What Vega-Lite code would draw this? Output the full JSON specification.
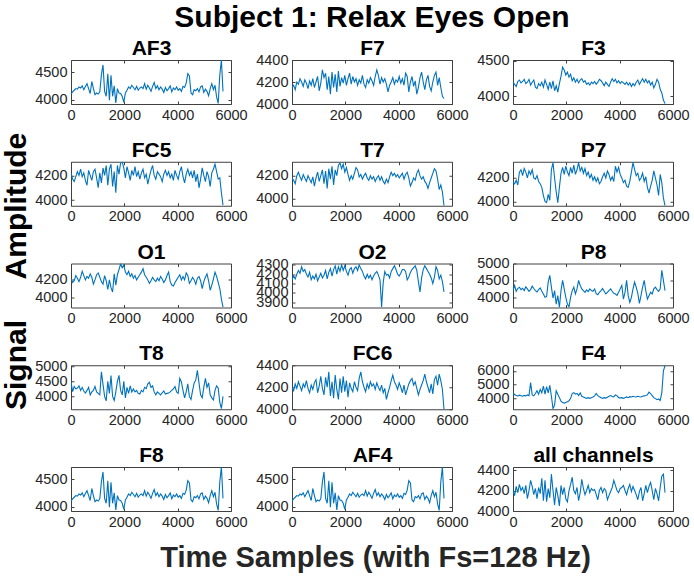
{
  "$schema": "https://vega.github.io/schema/vega-lite/v6.json",
  "background": "white",
  "padding": {"left": 2, "top": 3, "right": 2, "bottom": 3},
  "config": {
    "font": "Liberation Sans",
    "view": {"stroke": "#404040", "strokeWidth": 1},
    "axis": {"domain": false, "grid": false, "labelFont": "Liberation Sans", "labelFontSize": 14.5, "labelColor": "#262626", "tickColor": "#404040", "tickSize": -3, "labelPadding": 7, "labelFlush": false, "labelOverlap": false},
    "axisTop": {"titleFont": "Liberation Sans", "titleFontSize": 21, "titleFontWeight": "bold", "titleColor": "#000000", "titlePadding": 1},
    "title": {"font": "Liberation Sans", "fontSize": 30, "fontWeight": "bold", "color": "#000000"}
  },
  "title": {"text": "Subject 1: Relax Eyes Open", "anchor": "middle", "frame": "bounds", "offset": 4, "dx": 26},
  "data": {"values": [
{"t":0,"AF3":4100,"F7":4150,"F3":4200,"FC5":4220,"T7":4180,"P7":4160,"O1":4210,"O2":4140,"P8":4200,"T8":4490,"FC6":4200,"F4":4420,"F8":4100,"AF4":4100,"ALL":4200},
{"t":60,"AF3":4140,"F7":4170,"F3":4170,"FC5":4170,"T7":4160,"P7":4150,"O1":4170,"O2":4180,"P8":4350,"T8":4160,"FC6":4170,"F4":4280,"F8":4140,"AF4":4140,"ALL":4150},
{"t":120,"AF3":4170,"F7":4130,"F3":4140,"FC5":4150,"T7":4130,"P7":4180,"O1":4190,"O2":4150,"P8":4180,"T8":4330,"FC6":4230,"F4":4200,"F8":4170,"AF4":4170,"ALL":4240},
{"t":180,"AF3":4200,"F7":4200,"F3":4210,"FC5":4190,"T7":4200,"P7":4140,"O1":4250,"O2":4200,"P8":4260,"T8":4250,"FC6":4190,"F4":4170,"F8":4200,"AF4":4200,"ALL":4180},
{"t":240,"AF3":4190,"F7":4180,"F3":4230,"FC5":4230,"T7":4230,"P7":4250,"O1":4220,"O2":4240,"P8":4300,"T8":4280,"FC6":4250,"F4":4230,"F8":4190,"AF4":4190,"ALL":4260},
{"t":300,"AF3":4230,"F7":4230,"F3":4190,"FC5":4200,"T7":4190,"P7":4270,"O1":4180,"O2":4210,"P8":4230,"T8":4350,"FC6":4210,"F4":4190,"F8":4230,"AF4":4230,"ALL":4200},
{"t":360,"AF3":4210,"F7":4200,"F3":4210,"FC5":4250,"T7":4160,"P7":4220,"O1":4230,"O2":4280,"P8":4270,"T8":4200,"FC6":4170,"F4":4150,"F8":4210,"AF4":4210,"ALL":4230},
{"t":420,"AF3":4250,"F7":4160,"F3":4240,"FC5":4190,"T7":4210,"P7":4280,"O1":4300,"O2":4230,"P8":4200,"T8":4300,"FC6":4230,"F4":4210,"F8":4250,"AF4":4250,"ALL":4170},
{"t":480,"AF3":4180,"F7":4220,"F3":4180,"FC5":4220,"T7":4180,"P7":4250,"O1":4250,"O2":4250,"P8":4310,"T8":4180,"FC6":4200,"F4":4180,"F8":4180,"AF4":4180,"ALL":4250},
{"t":540,"AF3":4240,"F7":4190,"F3":4200,"FC5":4160,"T7":4150,"P7":4200,"O1":4200,"O2":4200,"P8":4250,"T8":4110,"FC6":4260,"F4":4250,"F8":4240,"AF4":4240,"ALL":4120},
{"t":600,"AF3":4290,"F7":4140,"F3":4240,"FC5":4120,"T7":4200,"P7":4260,"O1":4240,"O2":4170,"P8":4180,"T8":4200,"FC6":4190,"F4":4200,"F8":4290,"AF4":4290,"ALL":4200},
{"t":660,"AF3":4200,"F7":4210,"F3":4160,"FC5":4240,"T7":4170,"P7":4230,"O1":4220,"O2":4220,"P8":4230,"T8":4300,"FC6":4150,"F4":5150,"F8":4200,"AF4":4200,"ALL":4300},
{"t":720,"AF3":4110,"F7":4170,"F3":4200,"FC5":4200,"T7":4140,"P7":4270,"O1":4270,"O2":4140,"P8":4330,"T8":4050,"FC6":4220,"F4":4250,"F8":4110,"AF4":4110,"ALL":4240},
{"t":780,"AF3":4330,"F7":4230,"F3":4230,"FC5":4160,"T7":4190,"P7":4200,"O1":4230,"O2":4180,"P8":4260,"T8":4150,"FC6":4180,"F4":4180,"F8":4330,"AF4":4330,"ALL":4160},
{"t":840,"AF3":4200,"F7":4150,"F3":4130,"FC5":4230,"T7":4110,"P7":4190,"O1":4150,"O2":4150,"P8":4200,"T8":4200,"FC6":4240,"F4":4350,"F8":4200,"AF4":4200,"ALL":4220},
{"t":900,"AF3":4090,"F7":4200,"F3":4110,"FC5":4250,"T7":4180,"P7":4220,"O1":4200,"O2":4200,"P8":4160,"T8":4330,"FC6":4270,"F4":4560,"F8":4090,"AF4":4090,"ALL":4120},
{"t":960,"AF3":4120,"F7":4250,"F3":4180,"FC5":4180,"T7":4230,"P7":4170,"O1":4260,"O2":4130,"P8":4230,"T8":4150,"FC6":4150,"F4":4300,"F8":4120,"AF4":4120,"ALL":4230},
{"t":1020,"AF3":4100,"F7":4120,"F3":4150,"FC5":4100,"T7":4150,"P7":4150,"O1":4280,"O2":4170,"P8":4280,"T8":4100,"FC6":4210,"F4":4650,"F8":4100,"AF4":4100,"ALL":4170},
{"t":1080,"AF3":4140,"F7":4190,"F3":4200,"FC5":4220,"T7":4200,"P7":4120,"O1":4230,"O2":4210,"P8":4180,"T8":4050,"FC6":4300,"F4":4400,"F8":4140,"AF4":4140,"ALL":4320},
{"t":1140,"AF3":4450,"F7":4310,"F3":4130,"FC5":4140,"T7":4250,"P7":4050,"O1":4180,"O2":4160,"P8":4100,"T8":4820,"FC6":4190,"F4":4900,"F8":4450,"AF4":4450,"ALL":4100},
{"t":1200,"AF3":4630,"F7":4240,"F3":4230,"FC5":4260,"T7":4130,"P7":4000,"O1":4150,"O2":4190,"P8":4000,"T8":4400,"FC6":4130,"F4":4300,"F8":4630,"AF4":4630,"ALL":4300},
{"t":1260,"AF3":4150,"F7":4280,"F3":4170,"FC5":4200,"T7":4240,"P7":3990,"O1":4250,"O2":4240,"P8":4020,"T8":4000,"FC6":4290,"F4":4850,"F8":4150,"AF4":4150,"ALL":4090},
{"t":1320,"AF3":4060,"F7":4130,"F3":4100,"FC5":4280,"T7":4090,"P7":4060,"O1":4190,"O2":4150,"P8":4450,"T8":3850,"FC6":4200,"F4":4400,"F8":4060,"AF4":4060,"ALL":4220},
{"t":1380,"AF3":4470,"F7":4250,"F3":4200,"FC5":4120,"T7":4260,"P7":4010,"O1":4090,"O2":4220,"P8":4650,"T8":4500,"FC6":4340,"F4":4950,"F8":4470,"AF4":4470,"ALL":4130},
{"t":1440,"AF3":3990,"F7":4090,"F3":4110,"FC5":4250,"T7":4170,"P7":4270,"O1":4200,"O2":4260,"P8":4300,"T8":4100,"FC6":4120,"F4":4150,"F8":3990,"AF4":3990,"ALL":4360},
{"t":1500,"AF3":4440,"F7":4290,"F3":4220,"FC5":4290,"T7":4280,"P7":4330,"O1":4110,"O2":4180,"P8":3980,"T8":4700,"FC6":4250,"F4":3250,"F8":4440,"AF4":4440,"ALL":4200},
{"t":1560,"AF3":4060,"F7":4150,"F3":4080,"FC5":4110,"T7":4120,"P7":4200,"O1":4060,"O2":4250,"P8":4200,"T8":4000,"FC6":4100,"F4":3500,"F8":4060,"AF4":4060,"ALL":4060},
{"t":1620,"AF3":4250,"F7":4270,"F3":4150,"FC5":4230,"T7":4250,"P7":4080,"O1":4270,"O2":4290,"P8":3800,"T8":3860,"FC6":4310,"F4":4550,"F8":4250,"AF4":4250,"ALL":4230},
{"t":1680,"AF3":3940,"F7":4110,"F3":4060,"FC5":4060,"T7":4200,"P7":3990,"O1":4140,"O2":4200,"P8":4050,"T8":4150,"FC6":4180,"F4":4300,"F8":3940,"AF4":3940,"ALL":4150},
{"t":1740,"AF3":4200,"F7":4300,"F3":4180,"FC5":4280,"T7":4290,"P7":4120,"O1":4260,"O2":4280,"P8":3700,"T8":4500,"FC6":4090,"F4":4050,"F8":4200,"AF4":4200,"ALL":4050},
{"t":1800,"AF3":4120,"F7":4160,"F3":4280,"FC5":4210,"T7":4310,"P7":4240,"O1":4320,"O2":4230,"P8":4200,"T8":4700,"FC6":4280,"F4":3800,"F8":4120,"AF4":4120,"ALL":4250},
{"t":1860,"AF3":4110,"F7":4240,"F3":4410,"FC5":4300,"T7":4260,"P7":4290,"O1":4385,"O2":4300,"P8":4500,"T8":4200,"FC6":4150,"F4":3700,"F8":4110,"AF4":4110,"ALL":4160},
{"t":1920,"AF3":4060,"F7":4190,"F3":4370,"FC5":4310,"T7":4300,"P7":4230,"O1":4340,"O2":4240,"P8":4250,"T8":4050,"FC6":4300,"F4":3650,"F8":4060,"AF4":4060,"ALL":4230},
{"t":1980,"AF3":3950,"F7":4260,"F3":4300,"FC5":4260,"T7":4230,"P7":4300,"O1":4370,"O2":4290,"P8":4000,"T8":4500,"FC6":4160,"F4":3700,"F8":3950,"AF4":3950,"ALL":4120},
{"t":2040,"AF3":4120,"F7":4170,"F3":4340,"FC5":4180,"T7":4270,"P7":4250,"O1":4290,"O2":4230,"P8":3800,"T8":3950,"FC6":4260,"F4":3750,"F8":4120,"AF4":4120,"ALL":4090},
{"t":2100,"AF3":4170,"F7":4230,"F3":4270,"FC5":4270,"T7":4210,"P7":4220,"O1":4260,"O2":4190,"P8":3720,"T8":4300,"FC6":4110,"F4":3820,"F8":4170,"AF4":4170,"ALL":4200},
{"t":2160,"AF3":4230,"F7":4280,"F3":4310,"FC5":4220,"T7":4160,"P7":4290,"O1":4300,"O2":4250,"P8":4000,"T8":4100,"FC6":4240,"F4":4000,"F8":4230,"AF4":4230,"ALL":4260},
{"t":2220,"AF3":4200,"F7":4180,"F3":4220,"FC5":4160,"T7":4200,"P7":4240,"O1":4240,"O2":4270,"P8":4200,"T8":4350,"FC6":4190,"F4":4350,"F8":4200,"AF4":4200,"ALL":4330},
{"t":2280,"AF3":4260,"F7":4250,"F3":4260,"FC5":4240,"T7":4170,"P7":4310,"O1":4270,"O2":4210,"P8":4300,"T8":4150,"FC6":4160,"F4":4420,"F8":4260,"AF4":4260,"ALL":4200},
{"t":2340,"AF3":4220,"F7":4200,"F3":4200,"FC5":4200,"T7":4220,"P7":4230,"O1":4220,"O2":4260,"P8":4100,"T8":4250,"FC6":4250,"F4":4300,"F8":4220,"AF4":4220,"ALL":4170},
{"t":2400,"AF3":4180,"F7":4230,"F3":4240,"FC5":4270,"T7":4270,"P7":4270,"O1":4250,"O2":4280,"P8":4250,"T8":4150,"FC6":4200,"F4":4350,"F8":4180,"AF4":4180,"ALL":4230},
{"t":2460,"AF3":4240,"F7":4170,"F3":4190,"FC5":4190,"T7":4250,"P7":4330,"O1":4200,"O2":4240,"P8":4500,"T8":4200,"FC6":4170,"F4":4200,"F8":4240,"AF4":4240,"ALL":4100},
{"t":2520,"AF3":4170,"F7":4220,"F3":4230,"FC5":4230,"T7":4190,"P7":4260,"O1":4230,"O2":4300,"P8":4350,"T8":4100,"FC6":4280,"F4":4400,"F8":4170,"AF4":4170,"ALL":4180},
{"t":2580,"AF3":4210,"F7":4190,"F3":4250,"FC5":4170,"T7":4210,"P7":4290,"O1":4260,"O2":4260,"P8":4250,"T8":4080,"FC6":4340,"F4":4150,"F8":4210,"AF4":4210,"ALL":4310},
{"t":2640,"AF3":4230,"F7":4260,"F3":4200,"FC5":4220,"T7":4170,"P7":4240,"O1":4290,"O2":4230,"P8":4200,"T8":4200,"FC6":4250,"F4":4100,"F8":4230,"AF4":4230,"ALL":4220},
{"t":2700,"AF3":4200,"F7":4180,"F3":4220,"FC5":4250,"T7":4200,"P7":4280,"O1":4330,"O2":4180,"P8":4150,"T8":4150,"FC6":4200,"F4":4050,"F8":4200,"AF4":4200,"ALL":4160},
{"t":2760,"AF3":4290,"F7":4150,"F3":4170,"FC5":4180,"T7":4220,"P7":4220,"O1":4260,"O2":4150,"P8":4220,"T8":4300,"FC6":4160,"F4":4000,"F8":4290,"AF4":4290,"ALL":4200},
{"t":2820,"AF3":4190,"F7":4220,"F3":4190,"FC5":4210,"T7":4180,"P7":4250,"O1":4230,"O2":4200,"P8":4170,"T8":4260,"FC6":4230,"F4":4050,"F8":4190,"AF4":4190,"ALL":4250},
{"t":2880,"AF3":4260,"F7":4190,"F3":4160,"FC5":4130,"T7":4160,"P7":4200,"O1":4200,"O2":4160,"P8":4250,"T8":4420,"FC6":4190,"F4":4000,"F8":4260,"AF4":4260,"ALL":4180},
{"t":2940,"AF3":4210,"F7":4240,"F3":4200,"FC5":4190,"T7":4200,"P7":4230,"O1":4160,"O2":4190,"P8":4200,"T8":4470,"FC6":4250,"F4":4050,"F8":4210,"AF4":4210,"ALL":4220},
{"t":3000,"AF3":4150,"F7":4210,"F3":4180,"FC5":4240,"T7":4170,"P7":4180,"O1":4190,"O2":4140,"P8":4180,"T8":4300,"FC6":4210,"F4":4100,"F8":4150,"AF4":4150,"ALL":4200},
{"t":3060,"AF3":4240,"F7":4170,"F3":4210,"FC5":4280,"T7":4190,"P7":4210,"O1":4230,"O2":4180,"P8":4250,"T8":4350,"FC6":4230,"F4":4180,"F8":4240,"AF4":4240,"ALL":4210},
{"t":3120,"AF3":4310,"F7":4250,"F3":4170,"FC5":4200,"T7":4150,"P7":4170,"O1":4200,"O2":4210,"P8":4110,"T8":4150,"FC6":4180,"F4":4350,"F8":4310,"AF4":4310,"ALL":4160},
{"t":3180,"AF3":4200,"F7":4310,"F3":4200,"FC5":4170,"T7":4180,"P7":4200,"O1":4180,"O2":4230,"P8":4080,"T8":4050,"FC6":4240,"F4":4200,"F8":4200,"AF4":4200,"ALL":4110},
{"t":3240,"AF3":4250,"F7":4260,"F3":4240,"FC5":4230,"T7":4200,"P7":4150,"O1":4220,"O2":4190,"P8":4150,"T8":4150,"FC6":4200,"F4":4120,"F8":4250,"AF4":4250,"ALL":4200},
{"t":3300,"AF3":4180,"F7":4180,"F3":4220,"FC5":4210,"T7":4160,"P7":4170,"O1":4190,"O2":4140,"P8":4200,"T8":4100,"FC6":4170,"F4":4050,"F8":4180,"AF4":4180,"ALL":4230},
{"t":3360,"AF3":4230,"F7":4240,"F3":4190,"FC5":4190,"T7":4190,"P7":4210,"O1":4240,"O2":3850,"P8":4260,"T8":4050,"FC6":4220,"F4":4000,"F8":4230,"AF4":4230,"ALL":4180},
{"t":3420,"AF3":4190,"F7":4200,"F3":4150,"FC5":4150,"T7":4150,"P7":4240,"O1":4210,"O2":4110,"P8":4180,"T8":4120,"FC6":4150,"F4":4050,"F8":4190,"AF4":4190,"ALL":4220},
{"t":3480,"AF3":4130,"F7":4230,"F3":4200,"FC5":4210,"T7":4130,"P7":4200,"O1":4170,"O2":4230,"P8":4100,"T8":4180,"FC6":4190,"F4":4020,"F8":4130,"AF4":4130,"ALL":4200},
{"t":3540,"AF3":4220,"F7":4180,"F3":4170,"FC5":4240,"T7":4170,"P7":4260,"O1":4200,"O2":4190,"P8":4150,"T8":4080,"FC6":4090,"F4":4080,"F8":4220,"AF4":4220,"ALL":4110},
{"t":3600,"AF3":4160,"F7":4110,"F3":4140,"FC5":4200,"T7":4140,"P7":4230,"O1":4250,"O2":4200,"P8":4200,"T8":4100,"FC6":4150,"F4":4150,"F8":4160,"AF4":4160,"ALL":4150},
{"t":3660,"AF3":4200,"F7":4170,"F3":4200,"FC5":4230,"T7":4190,"P7":4180,"O1":4290,"O2":4160,"P8":4250,"T8":4110,"FC6":4200,"F4":4200,"F8":4200,"AF4":4200,"ALL":4190},
{"t":3720,"AF3":4250,"F7":4200,"F3":4250,"FC5":4180,"T7":4230,"P7":4210,"O1":4180,"O2":4230,"P8":4180,"T8":4150,"FC6":4260,"F4":4130,"F8":4250,"AF4":4250,"ALL":4230},
{"t":3780,"AF3":4140,"F7":4240,"F3":4210,"FC5":4210,"T7":4200,"P7":4170,"O1":4140,"O2":4260,"P8":4120,"T8":4200,"FC6":4310,"F4":4100,"F8":4140,"AF4":4140,"ALL":4300},
{"t":3840,"AF3":4210,"F7":4180,"F3":4240,"FC5":4160,"T7":4220,"P7":4300,"O1":4130,"O2":4290,"P8":4100,"T8":4250,"FC6":4250,"F4":4250,"F8":4210,"AF4":4210,"ALL":4250},
{"t":3900,"AF3":4180,"F7":4220,"F3":4190,"FC5":4240,"T7":4190,"P7":4250,"O1":4170,"O2":4250,"P8":4060,"T8":4330,"FC6":4220,"F4":4200,"F8":4180,"AF4":4180,"ALL":4200},
{"t":3960,"AF3":4230,"F7":4200,"F3":4220,"FC5":4200,"T7":4210,"P7":4290,"O1":4200,"O2":4200,"P8":4150,"T8":4150,"FC6":4180,"F4":4050,"F8":4230,"AF4":4230,"ALL":4180},
{"t":4020,"AF3":4170,"F7":4250,"F3":4180,"FC5":4170,"T7":4180,"P7":4230,"O1":4230,"O2":4180,"P8":4250,"T8":4100,"FC6":4240,"F4":4030,"F8":4170,"AF4":4170,"ALL":4220},
{"t":4080,"AF3":4200,"F7":4190,"F3":4210,"FC5":4230,"T7":4200,"P7":4200,"O1":4260,"O2":4210,"P8":4350,"T8":4600,"FC6":4200,"F4":4050,"F8":4200,"AF4":4200,"ALL":4230},
{"t":4140,"AF3":4150,"F7":4230,"F3":4190,"FC5":4270,"T7":4220,"P7":4160,"O1":4200,"O2":4250,"P8":3950,"T8":4480,"FC6":4150,"F4":4000,"F8":4150,"AF4":4150,"ALL":4250},
{"t":4200,"AF3":4240,"F7":4170,"F3":4170,"FC5":4190,"T7":4170,"P7":4180,"O1":4240,"O2":4250,"P8":4150,"T8":4200,"FC6":4220,"F4":4050,"F8":4240,"AF4":4240,"ALL":4200},
{"t":4260,"AF3":4220,"F7":4280,"F3":4200,"FC5":4140,"T7":4210,"P7":4130,"O1":4200,"O2":4230,"P8":4500,"T8":3950,"FC6":4130,"F4":4100,"F8":4220,"AF4":4220,"ALL":4160},
{"t":4320,"AF3":4300,"F7":4250,"F3":4160,"FC5":4210,"T7":4230,"P7":4120,"O1":4280,"O2":4140,"P8":4050,"T8":4150,"FC6":4180,"F4":4050,"F8":4300,"AF4":4300,"ALL":4220},
{"t":4380,"AF3":4470,"F7":4110,"F3":4190,"FC5":4250,"T7":4180,"P7":4170,"O1":4250,"O2":4170,"P8":3850,"T8":4420,"FC6":4230,"F4":4120,"F8":4470,"AF4":4470,"ALL":4260},
{"t":4440,"AF3":4430,"F7":4200,"F3":4140,"FC5":4200,"T7":4110,"P7":4250,"O1":4160,"O2":4220,"P8":4000,"T8":3990,"FC6":4260,"F4":4100,"F8":4430,"AF4":4430,"ALL":4190},
{"t":4500,"AF3":4120,"F7":4250,"F3":4180,"FC5":4230,"T7":4140,"P7":4330,"O1":4190,"O2":4250,"P8":4250,"T8":3900,"FC6":4280,"F4":4150,"F8":4120,"AF4":4120,"ALL":4240},
{"t":4560,"AF3":4090,"F7":4160,"F3":4150,"FC5":4180,"T7":4180,"P7":4270,"O1":4230,"O2":4270,"P8":4450,"T8":4200,"FC6":4220,"F4":4120,"F8":4090,"AF4":4090,"ALL":4200},
{"t":4620,"AF3":4180,"F7":4210,"F3":4200,"FC5":4240,"T7":4160,"P7":4220,"O1":4200,"O2":4290,"P8":4300,"T8":4450,"FC6":4250,"F4":4100,"F8":4180,"AF4":4180,"ALL":4160},
{"t":4680,"AF3":4160,"F7":4090,"F3":4230,"FC5":4150,"T7":4220,"P7":4240,"O1":4150,"O2":4240,"P8":4120,"T8":4550,"FC6":4190,"F4":4150,"F8":4160,"AF4":4160,"ALL":4110},
{"t":4740,"AF3":4200,"F7":4150,"F3":4170,"FC5":4210,"T7":4250,"P7":4180,"O1":4220,"O2":4120,"P8":3820,"T8":4870,"FC6":4130,"F4":4120,"F8":4200,"AF4":4200,"ALL":4190},
{"t":4800,"AF3":4140,"F7":4240,"F3":4210,"FC5":4100,"T7":4200,"P7":4200,"O1":4240,"O2":4010,"P8":4050,"T8":4450,"FC6":4180,"F4":4100,"F8":4140,"AF4":4140,"ALL":4230},
{"t":4860,"AF3":4230,"F7":4290,"F3":4250,"FC5":4170,"T7":4170,"P7":4240,"O1":4190,"O2":4160,"P8":4300,"T8":4050,"FC6":4220,"F4":4150,"F8":4230,"AF4":4230,"ALL":4100},
{"t":4920,"AF3":4250,"F7":4200,"F3":4200,"FC5":4260,"T7":4190,"P7":4170,"O1":4100,"O2":4250,"P8":4500,"T8":3950,"FC6":4260,"F4":4180,"F8":4250,"AF4":4250,"ALL":4170},
{"t":4980,"AF3":4130,"F7":4130,"F3":4240,"FC5":4200,"T7":4150,"P7":4210,"O1":4180,"O2":4290,"P8":4200,"T8":4300,"FC6":4320,"F4":4200,"F8":4130,"AF4":4130,"ALL":4250},
{"t":5040,"AF3":4190,"F7":4220,"F3":4190,"FC5":4150,"T7":4130,"P7":4120,"O1":4230,"O2":4260,"P8":3950,"T8":4600,"FC6":4250,"F4":4250,"F8":4190,"AF4":4190,"ALL":4180},
{"t":5100,"AF3":4150,"F7":4260,"F3":4220,"FC5":4230,"T7":4090,"P7":4070,"O1":4270,"O2":4230,"P8":4050,"T8":4300,"FC6":4200,"F4":4450,"F8":4150,"AF4":4150,"ALL":4240},
{"t":5160,"AF3":4070,"F7":4160,"F3":4160,"FC5":4190,"T7":4140,"P7":4130,"O1":4190,"O2":4200,"P8":4150,"T8":4450,"FC6":4150,"F4":4350,"F8":4070,"AF4":4070,"ALL":4280},
{"t":5220,"AF3":4200,"F7":4120,"F3":4200,"FC5":4110,"T7":4180,"P7":4180,"O1":4080,"O2":4160,"P8":4100,"T8":4050,"FC6":4230,"F4":4200,"F8":4200,"AF4":4200,"ALL":4200},
{"t":5280,"AF3":4290,"F7":4200,"F3":4120,"FC5":4220,"T7":4220,"P7":4260,"O1":4140,"O2":4100,"P8":4250,"T8":3950,"FC6":4140,"F4":4050,"F8":4290,"AF4":4290,"ALL":4110},
{"t":5340,"AF3":4180,"F7":4260,"F3":4170,"FC5":4250,"T7":4260,"P7":4200,"O1":4210,"O2":4170,"P8":4300,"T8":3880,"FC6":4270,"F4":3980,"F8":4180,"AF4":4180,"ALL":4220},
{"t":5400,"AF3":4260,"F7":4290,"F3":4240,"FC5":4290,"T7":4240,"P7":4140,"O1":4290,"O2":4280,"P8":4230,"T8":4200,"FC6":4300,"F4":3900,"F8":4260,"AF4":4260,"ALL":4170},
{"t":5460,"AF3":4050,"F7":4170,"F3":4200,"FC5":4230,"T7":4170,"P7":4050,"O1":4240,"O2":4240,"P8":4180,"T8":4350,"FC6":4220,"F4":3950,"F8":4050,"AF4":4050,"ALL":4100},
{"t":5520,"AF3":3930,"F7":4240,"F3":4100,"FC5":4170,"T7":4080,"P7":4230,"O1":4170,"O2":4150,"P8":4250,"T8":4280,"FC6":4320,"F4":3850,"F8":3930,"AF4":3930,"ALL":4230},
{"t":5580,"AF3":4450,"F7":4150,"F3":4050,"FC5":4180,"T7":4120,"P7":4160,"O1":4100,"O2":4190,"P8":4800,"T8":3800,"FC6":4260,"F4":4400,"F8":4450,"AF4":4450,"ALL":4340},
{"t":5640,"AF3":4720,"F7":4070,"F3":3950,"FC5":4060,"T7":4060,"P7":4030,"O1":3980,"O2":4120,"P8":4500,"T8":3590,"FC6":4180,"F4":6000,"F8":4720,"AF4":4720,"ALL":4360},
{"t":5700,"AF3":4150,"F7":4050,"F3":3900,"FC5":3960,"T7":3940,"P7":3965,"O1":3885,"O2":4010,"P8":4200,"T8":4000,"FC6":4000,"F4":6400,"F8":4150,"AF4":4150,"ALL":4180}
  ]},
  "vconcat": [{
    "title": {"text": "Time Samples (with Fs=128 Hz)", "orient": "bottom", "fontSize": 29, "color": "#262626", "frame": "bounds", "offset": 15, "dx": 158},
    "hconcat": [{
      "title": {"text": "Signal\u00a0\u00a0\u00a0\u00a0 Amplitude", "orient": "left", "fontSize": 30, "frame": "bounds", "offset": 2, "dx": 119},
      "columns": 3,
      "spacing": {"row": 57.75, "column": 61},
      "bounds": "flush",
      "concat": [
        {"width": 160, "height": 44, "resolve": {"axis": {"x": "independent", "y": "independent"}}, "layer": [
          {"mark": {"type": "line", "color": "#0072BD", "strokeWidth": 1.1, "clip": true},
           "encoding": {"x": {"field": "t", "type": "quantitative", "scale": {"domain": [0, 6000], "nice": false}, "axis": {"values": [0, 2000, 4000, 6000], "format": "d", "title": null}},
                        "y": {"field": "AF3", "type": "quantitative", "scale": {"domain": [3920, 4720], "nice": false, "zero": false}, "axis": {"values": [4000, 4500], "format": "d", "title": null}}}},
          {"mark": {"type": "line", "opacity": 0},
           "encoding": {"x": {"field": "t", "type": "quantitative", "scale": {"domain": [0, 6000], "nice": false}, "axis": {"orient": "top", "values": [0, 2000, 4000, 6000], "labels": false, "title": "AF3"}},
                        "y": {"field": "AF3", "type": "quantitative", "scale": {"domain": [3920, 4720], "nice": false, "zero": false}, "axis": {"orient": "right", "values": [4000, 4500], "labels": false, "title": null}}}}]},
        {"width": 160, "height": 44, "resolve": {"axis": {"x": "independent", "y": "independent"}}, "layer": [
          {"mark": {"type": "line", "color": "#0072BD", "strokeWidth": 1.1, "clip": true},
           "encoding": {"x": {"field": "t", "type": "quantitative", "scale": {"domain": [0, 6000], "nice": false}, "axis": {"values": [0, 2000, 4000, 6000], "format": "d", "title": null}},
                        "y": {"field": "F7", "type": "quantitative", "scale": {"domain": [4000, 4400], "nice": false, "zero": false}, "axis": {"values": [4000, 4200, 4400], "format": "d", "title": null}}}},
          {"mark": {"type": "line", "opacity": 0},
           "encoding": {"x": {"field": "t", "type": "quantitative", "scale": {"domain": [0, 6000], "nice": false}, "axis": {"orient": "top", "values": [0, 2000, 4000, 6000], "labels": false, "title": "F7"}},
                        "y": {"field": "F7", "type": "quantitative", "scale": {"domain": [4000, 4400], "nice": false, "zero": false}, "axis": {"orient": "right", "values": [4000, 4200, 4400], "labels": false, "title": null}}}}]},
        {"width": 160, "height": 44, "resolve": {"axis": {"x": "independent", "y": "independent"}}, "layer": [
          {"mark": {"type": "line", "color": "#0072BD", "strokeWidth": 1.1, "clip": true},
           "encoding": {"x": {"field": "t", "type": "quantitative", "scale": {"domain": [0, 6000], "nice": false}, "axis": {"values": [0, 2000, 4000, 6000], "format": "d", "title": null}},
                        "y": {"field": "F3", "type": "quantitative", "scale": {"domain": [3895, 4510], "nice": false, "zero": false}, "axis": {"values": [4000, 4500], "format": "d", "title": null}}}},
          {"mark": {"type": "line", "opacity": 0},
           "encoding": {"x": {"field": "t", "type": "quantitative", "scale": {"domain": [0, 6000], "nice": false}, "axis": {"orient": "top", "values": [0, 2000, 4000, 6000], "labels": false, "title": "F3"}},
                        "y": {"field": "F3", "type": "quantitative", "scale": {"domain": [3895, 4510], "nice": false, "zero": false}, "axis": {"orient": "right", "values": [4000, 4500], "labels": false, "title": null}}}}]},
        {"width": 160, "height": 44, "resolve": {"axis": {"x": "independent", "y": "independent"}}, "layer": [
          {"mark": {"type": "line", "color": "#0072BD", "strokeWidth": 1.1, "clip": true},
           "encoding": {"x": {"field": "t", "type": "quantitative", "scale": {"domain": [0, 6000], "nice": false}, "axis": {"values": [0, 2000, 4000, 6000], "format": "d", "title": null}},
                        "y": {"field": "FC5", "type": "quantitative", "scale": {"domain": [3955, 4310], "nice": false, "zero": false}, "axis": {"values": [4000, 4200], "format": "d", "title": null}}}},
          {"mark": {"type": "line", "opacity": 0},
           "encoding": {"x": {"field": "t", "type": "quantitative", "scale": {"domain": [0, 6000], "nice": false}, "axis": {"orient": "top", "values": [0, 2000, 4000, 6000], "labels": false, "title": "FC5"}},
                        "y": {"field": "FC5", "type": "quantitative", "scale": {"domain": [3955, 4310], "nice": false, "zero": false}, "axis": {"orient": "right", "values": [4000, 4200], "labels": false, "title": null}}}}]},
        {"width": 160, "height": 44, "resolve": {"axis": {"x": "independent", "y": "independent"}}, "layer": [
          {"mark": {"type": "line", "color": "#0072BD", "strokeWidth": 1.1, "clip": true},
           "encoding": {"x": {"field": "t", "type": "quantitative", "scale": {"domain": [0, 6000], "nice": false}, "axis": {"values": [0, 2000, 4000, 6000], "format": "d", "title": null}},
                        "y": {"field": "T7", "type": "quantitative", "scale": {"domain": [3940, 4320], "nice": false, "zero": false}, "axis": {"values": [4000, 4200], "format": "d", "title": null}}}},
          {"mark": {"type": "line", "opacity": 0},
           "encoding": {"x": {"field": "t", "type": "quantitative", "scale": {"domain": [0, 6000], "nice": false}, "axis": {"orient": "top", "values": [0, 2000, 4000, 6000], "labels": false, "title": "T7"}},
                        "y": {"field": "T7", "type": "quantitative", "scale": {"domain": [3940, 4320], "nice": false, "zero": false}, "axis": {"orient": "right", "values": [4000, 4200], "labels": false, "title": null}}}}]},
        {"width": 160, "height": 44, "resolve": {"axis": {"x": "independent", "y": "independent"}}, "layer": [
          {"mark": {"type": "line", "color": "#0072BD", "strokeWidth": 1.1, "clip": true},
           "encoding": {"x": {"field": "t", "type": "quantitative", "scale": {"domain": [0, 6000], "nice": false}, "axis": {"values": [0, 2000, 4000, 6000], "format": "d", "title": null}},
                        "y": {"field": "P7", "type": "quantitative", "scale": {"domain": [3963, 4338], "nice": false, "zero": false}, "axis": {"values": [4000, 4200], "format": "d", "title": null}}}},
          {"mark": {"type": "line", "opacity": 0},
           "encoding": {"x": {"field": "t", "type": "quantitative", "scale": {"domain": [0, 6000], "nice": false}, "axis": {"orient": "top", "values": [0, 2000, 4000, 6000], "labels": false, "title": "P7"}},
                        "y": {"field": "P7", "type": "quantitative", "scale": {"domain": [3963, 4338], "nice": false, "zero": false}, "axis": {"orient": "right", "values": [4000, 4200], "labels": false, "title": null}}}}]},
        {"width": 160, "height": 44, "resolve": {"axis": {"x": "independent", "y": "independent"}}, "layer": [
          {"mark": {"type": "line", "color": "#0072BD", "strokeWidth": 1.1, "clip": true},
           "encoding": {"x": {"field": "t", "type": "quantitative", "scale": {"domain": [0, 6000], "nice": false}, "axis": {"values": [0, 2000, 4000, 6000], "format": "d", "title": null}},
                        "y": {"field": "O1", "type": "quantitative", "scale": {"domain": [3880, 4390], "nice": false, "zero": false}, "axis": {"values": [4000, 4200], "format": "d", "title": null}}}},
          {"mark": {"type": "line", "opacity": 0},
           "encoding": {"x": {"field": "t", "type": "quantitative", "scale": {"domain": [0, 6000], "nice": false}, "axis": {"orient": "top", "values": [0, 2000, 4000, 6000], "labels": false, "title": "O1"}},
                        "y": {"field": "O1", "type": "quantitative", "scale": {"domain": [3880, 4390], "nice": false, "zero": false}, "axis": {"orient": "right", "values": [4000, 4200], "labels": false, "title": null}}}}]},
        {"width": 160, "height": 44, "resolve": {"axis": {"x": "independent", "y": "independent"}}, "layer": [
          {"mark": {"type": "line", "color": "#0072BD", "strokeWidth": 1.1, "clip": true},
           "encoding": {"x": {"field": "t", "type": "quantitative", "scale": {"domain": [0, 6000], "nice": false}, "axis": {"values": [0, 2000, 4000, 6000], "format": "d", "title": null}},
                        "y": {"field": "O2", "type": "quantitative", "scale": {"domain": [3843, 4315], "nice": false, "zero": false}, "axis": {"values": [3900, 4000, 4100, 4200, 4300], "format": "d", "title": null}}}},
          {"mark": {"type": "line", "opacity": 0},
           "encoding": {"x": {"field": "t", "type": "quantitative", "scale": {"domain": [0, 6000], "nice": false}, "axis": {"orient": "top", "values": [0, 2000, 4000, 6000], "labels": false, "title": "O2"}},
                        "y": {"field": "O2", "type": "quantitative", "scale": {"domain": [3843, 4315], "nice": false, "zero": false}, "axis": {"orient": "right", "values": [3900, 4000, 4100, 4200, 4300], "labels": false, "title": null}}}}]},
        {"width": 160, "height": 44, "resolve": {"axis": {"x": "independent", "y": "independent"}}, "layer": [
          {"mark": {"type": "line", "color": "#0072BD", "strokeWidth": 1.1, "clip": true},
           "encoding": {"x": {"field": "t", "type": "quantitative", "scale": {"domain": [0, 6000], "nice": false}, "axis": {"values": [0, 2000, 4000, 6000], "format": "d", "title": null}},
                        "y": {"field": "P8", "type": "quantitative", "scale": {"domain": [3700, 5000], "nice": false, "zero": false}, "axis": {"values": [4000, 4500, 5000], "format": "d", "title": null}}}},
          {"mark": {"type": "line", "opacity": 0},
           "encoding": {"x": {"field": "t", "type": "quantitative", "scale": {"domain": [0, 6000], "nice": false}, "axis": {"orient": "top", "values": [0, 2000, 4000, 6000], "labels": false, "title": "P8"}},
                        "y": {"field": "P8", "type": "quantitative", "scale": {"domain": [3700, 5000], "nice": false, "zero": false}, "axis": {"orient": "right", "values": [4000, 4500, 5000], "labels": false, "title": null}}}}]},
        {"width": 160, "height": 44, "resolve": {"axis": {"x": "independent", "y": "independent"}}, "layer": [
          {"mark": {"type": "line", "color": "#0072BD", "strokeWidth": 1.1, "clip": true},
           "encoding": {"x": {"field": "t", "type": "quantitative", "scale": {"domain": [0, 6000], "nice": false}, "axis": {"values": [0, 2000, 4000, 6000], "format": "d", "title": null}},
                        "y": {"field": "T8", "type": "quantitative", "scale": {"domain": [3570, 5040], "nice": false, "zero": false}, "axis": {"values": [4000, 4500, 5000], "format": "d", "title": null}}}},
          {"mark": {"type": "line", "opacity": 0},
           "encoding": {"x": {"field": "t", "type": "quantitative", "scale": {"domain": [0, 6000], "nice": false}, "axis": {"orient": "top", "values": [0, 2000, 4000, 6000], "labels": false, "title": "T8"}},
                        "y": {"field": "T8", "type": "quantitative", "scale": {"domain": [3570, 5040], "nice": false, "zero": false}, "axis": {"orient": "right", "values": [4000, 4500, 5000], "labels": false, "title": null}}}}]},
        {"width": 160, "height": 44, "resolve": {"axis": {"x": "independent", "y": "independent"}}, "layer": [
          {"mark": {"type": "line", "color": "#0072BD", "strokeWidth": 1.1, "clip": true},
           "encoding": {"x": {"field": "t", "type": "quantitative", "scale": {"domain": [0, 6000], "nice": false}, "axis": {"values": [0, 2000, 4000, 6000], "format": "d", "title": null}},
                        "y": {"field": "FC6", "type": "quantitative", "scale": {"domain": [4000, 4400], "nice": false, "zero": false}, "axis": {"values": [4000, 4200, 4400], "format": "d", "title": null}}}},
          {"mark": {"type": "line", "opacity": 0},
           "encoding": {"x": {"field": "t", "type": "quantitative", "scale": {"domain": [0, 6000], "nice": false}, "axis": {"orient": "top", "values": [0, 2000, 4000, 6000], "labels": false, "title": "FC6"}},
                        "y": {"field": "FC6", "type": "quantitative", "scale": {"domain": [4000, 4400], "nice": false, "zero": false}, "axis": {"orient": "right", "values": [4000, 4200, 4400], "labels": false, "title": null}}}}]},
        {"width": 160, "height": 44, "resolve": {"axis": {"x": "independent", "y": "independent"}}, "layer": [
          {"mark": {"type": "line", "color": "#0072BD", "strokeWidth": 1.1, "clip": true},
           "encoding": {"x": {"field": "t", "type": "quantitative", "scale": {"domain": [0, 6000], "nice": false}, "axis": {"values": [0, 2000, 4000, 6000], "format": "d", "title": null}},
                        "y": {"field": "F4", "type": "quantitative", "scale": {"domain": [3200, 6420], "nice": false, "zero": false}, "axis": {"values": [4000, 5000, 6000], "format": "d", "title": null}}}},
          {"mark": {"type": "line", "opacity": 0},
           "encoding": {"x": {"field": "t", "type": "quantitative", "scale": {"domain": [0, 6000], "nice": false}, "axis": {"orient": "top", "values": [0, 2000, 4000, 6000], "labels": false, "title": "F4"}},
                        "y": {"field": "F4", "type": "quantitative", "scale": {"domain": [3200, 6420], "nice": false, "zero": false}, "axis": {"orient": "right", "values": [4000, 5000, 6000], "labels": false, "title": null}}}}]},
        {"width": 160, "height": 44, "resolve": {"axis": {"x": "independent", "y": "independent"}}, "layer": [
          {"mark": {"type": "line", "color": "#0072BD", "strokeWidth": 1.1, "clip": true},
           "encoding": {"x": {"field": "t", "type": "quantitative", "scale": {"domain": [0, 6000], "nice": false}, "axis": {"values": [0, 2000, 4000, 6000], "format": "d", "title": null}},
                        "y": {"field": "F8", "type": "quantitative", "scale": {"domain": [3920, 4720], "nice": false, "zero": false}, "axis": {"values": [4000, 4500], "format": "d", "title": null}}}},
          {"mark": {"type": "line", "opacity": 0},
           "encoding": {"x": {"field": "t", "type": "quantitative", "scale": {"domain": [0, 6000], "nice": false}, "axis": {"orient": "top", "values": [0, 2000, 4000, 6000], "labels": false, "title": "F8"}},
                        "y": {"field": "F8", "type": "quantitative", "scale": {"domain": [3920, 4720], "nice": false, "zero": false}, "axis": {"orient": "right", "values": [4000, 4500], "labels": false, "title": null}}}}]},
        {"width": 160, "height": 44, "resolve": {"axis": {"x": "independent", "y": "independent"}}, "layer": [
          {"mark": {"type": "line", "color": "#0072BD", "strokeWidth": 1.1, "clip": true},
           "encoding": {"x": {"field": "t", "type": "quantitative", "scale": {"domain": [0, 6000], "nice": false}, "axis": {"values": [0, 2000, 4000, 6000], "format": "d", "title": null}},
                        "y": {"field": "AF4", "type": "quantitative", "scale": {"domain": [3920, 4720], "nice": false, "zero": false}, "axis": {"values": [4000, 4500], "format": "d", "title": null}}}},
          {"mark": {"type": "line", "opacity": 0},
           "encoding": {"x": {"field": "t", "type": "quantitative", "scale": {"domain": [0, 6000], "nice": false}, "axis": {"orient": "top", "values": [0, 2000, 4000, 6000], "labels": false, "title": "AF4"}},
                        "y": {"field": "AF4", "type": "quantitative", "scale": {"domain": [3920, 4720], "nice": false, "zero": false}, "axis": {"orient": "right", "values": [4000, 4500], "labels": false, "title": null}}}}]},
        {"width": 160, "height": 44, "resolve": {"axis": {"x": "independent", "y": "independent"}}, "layer": [
          {"mark": {"type": "line", "color": "#0072BD", "strokeWidth": 1.1, "clip": true},
           "encoding": {"x": {"field": "t", "type": "quantitative", "scale": {"domain": [0, 6000], "nice": false}, "axis": {"values": [0, 2000, 4000, 6000], "format": "d", "title": null}},
                        "y": {"field": "ALL", "type": "quantitative", "scale": {"domain": [4000, 4430], "nice": false, "zero": false}, "axis": {"values": [4000, 4200, 4400], "format": "d", "title": null}}}},
          {"mark": {"type": "line", "opacity": 0},
           "encoding": {"x": {"field": "t", "type": "quantitative", "scale": {"domain": [0, 6000], "nice": false}, "axis": {"orient": "top", "values": [0, 2000, 4000, 6000], "labels": false, "title": "all channels"}},
                        "y": {"field": "ALL", "type": "quantitative", "scale": {"domain": [4000, 4430], "nice": false, "zero": false}, "axis": {"orient": "right", "values": [4000, 4200, 4400], "labels": false, "title": null}}}}]}
      ]
    }]
  }]
}
